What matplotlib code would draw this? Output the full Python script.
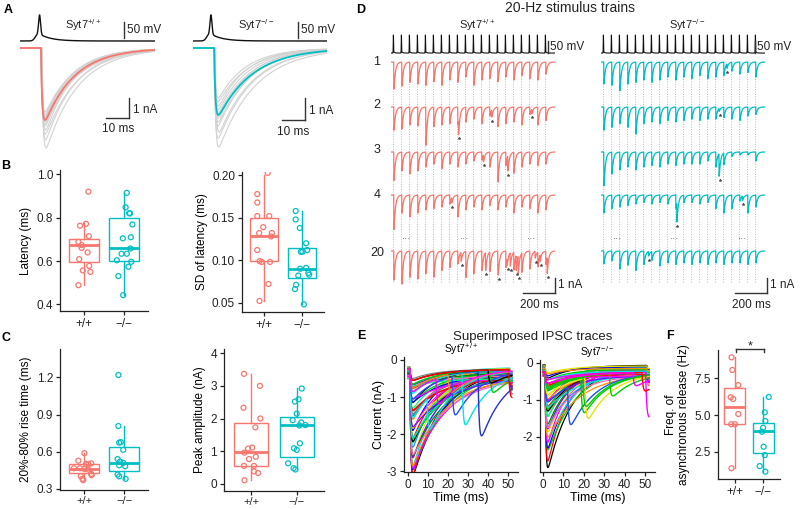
import numpy as np
import matplotlib
matplotlib.use("Agg")
import matplotlib.pyplot as plt

plt.rcParams['font.family'] = ['Liberation Sans', 'DejaVu Sans']
plt.rcParams['mathtext.fontset'] = 'custom'
plt.rcParams['mathtext.rm'] = 'Liberation Sans'
plt.rcParams['mathtext.it'] = 'Liberation Sans:italic'
plt.rcParams['mathtext.bf'] = 'Liberation Sans:bold'

RED = '#F8766D'
CYAN = '#00BFC4'
W, H = 800, 509
groups = ['+/+', '\u2212/\u2212']
WT = 'Syt7$^{+/+}$'
KO = 'Syt7$^{-/-}$'

# ---- panel A : single IPSCs (peak nA, decay ms, onset ms) ----
a_wt_gray_amp = [5.0, 4.6, 4.3, 4.1, 3.9, 3.8, 3.7, 3.6, 3.5, 3.4, 3.3, 3.2]
a_wt_gray_tau = [14, 13, 14, 12, 13, 12, 14, 13, 12, 13, 12, 13]
a_wt_gray_on = [9.6, 9.4, 9.3, 9.5, 9.2, 9.4, 9.1, 9.3, 9.0, 9.2, 9.4, 9.1]
a_wt_mean = [3.6, 13, 9.1]
a_ko_gray_amp = [4.95, 4.5, 4.2, 3.9, 3.7, 3.5, 3.3, 3.1, 2.9, 2.7, 2.5]
a_ko_gray_tau = [16, 15, 15, 14, 14, 13, 14, 13, 12, 13, 12]
a_ko_gray_on = [9.4, 9.2, 9.6, 9.1, 9.3, 9.5, 9.0, 9.2, 9.4, 9.1, 9.3]
a_ko_mean = [3.35, 15, 9.2]

# ---- panel B / C / F : box stats [whislo, q1, med, q3, whishi] and points ----
lat_wt = [0.92, 0.763, 0.772, 0.715, 0.689, 0.674, 0.661, 0.64, 0.609, 0.557, 0.578, 0.55, 0.489]
lat_wt_dx = [0.11, -0.10, 0.05, 0.12, -0.14, -0.06, -0.06, 0.09, -0.12, -0.03, 0.13, 0.16, -0.14]
lat_ko = [0.915, 0.848, 0.821, 0.82, 0.769, 0.705, 0.71, 0.658, 0.634, 0.634, 0.604, 0.597, 0.574, 0.531, 0.443]
lat_ko_dx = [0.07, 0.04, 0.13, 0.15, 0.21, -0.03, 0.17, 0.16, -0.06, 0.07, -0.18, 0.18, 0.11, -0.14, -0.02]
lat_box_wt = [0.49, 0.594, 0.672, 0.70, 0.774]
lat_box_ko = [0.443, 0.60, 0.661, 0.797, 0.915]

sd_wt = [0.203, 0.178, 0.168, 0.152, 0.152, 0.139, 0.132, 0.132, 0.128, 0.112, 0.099, 0.098, 0.098, 0.072, 0.052]
sd_wt_dx = [0.09, -0.19, -0.19, -0.19, 0.13, -0.03, -0.14, 0.20, 0.18, -0.19, -0.13, -0.07, 0.15, 0.11, -0.13]
sd_ko = [0.158, 0.148, 0.138, 0.12, 0.112, 0.11, 0.11, 0.091, 0.09, 0.082, 0.085, 0.083, 0.071, 0.066, 0.048]
sd_ko_dx = [-0.16, -0.16, -0.05, 0.12, 0.15, -0.02, 0.02, 0.12, -0.04, -0.09, 0.18, 0.20, -0.15, -0.18, 0.06]
sd_box_wt = [0.052, 0.0994, 0.129, 0.15, 0.20]
sd_box_ko = [0.048, 0.0789, 0.0896, 0.1144, 0.158]

rise_wt = [0.588, 0.527, 0.50, 0.505, 0.50, 0.466, 0.466, 0.46, 0.455, 0.42, 0.402, 0.41, 0.38, 0.37]
rise_wt_dx = [0.01, -0.14, 0.11, 0.18, 0.05, -0.25, -0.10, 0.01, 0.11, 0.18, -0.08, 0.19, -0.04, -0.02]
rise_ko = [1.22, 0.807, 0.673, 0.677, 0.615, 0.54, 0.52, 0.51, 0.482, 0.49, 0.415, 0.40, 0.38]
rise_ko_dx = [-0.14, -0.14, -0.12, -0.08, -0.02, -0.16, -0.10, -0.02, 0.03, -0.12, -0.16, -0.12, 0.04]
rise_box_wt = [0.37, 0.426, 0.46, 0.498, 0.588]
rise_box_ko = [0.38, 0.447, 0.506, 0.641, 0.807]

amp_wt = [3.37, 3.0, 2.33, 2.0, 1.73, 1.11, 1.08, 0.955, 0.83, 0.76, 0.55, 0.55, 0.38, 0.33, 0.11]
amp_wt_dx = [-0.16, 0.19, -0.17, 0.20, 0.09, 0.02, -0.07, -0.15, 0.10, -0.05, -0.16, 0.06, 0.06, 0.15, -0.15]
amp_ko = [2.92, 2.59, 2.52, 2.15, 1.95, 1.88, 1.79, 1.8, 1.24, 1.09, 1.04, 0.63, 0.48, 0.44]
amp_ko_dx = [0.11, 0.04, -0.04, 0.0, -0.09, 0.10, 0.06, 0.19, 0.07, -0.06, 0.0, -0.19, -0.07, -0.03]
amp_box_wt = [0.12, 0.55, 0.965, 1.87, 3.37]
amp_box_ko = [0.44, 0.83, 1.79, 2.05, 2.92]

asyn_wt = [8.93, 8.07, 7.04, 6.21, 6.09, 5.07, 4.37, 4.37, 1.37]
asyn_wt_dx = [-0.12, -0.09, 0.12, -0.15, -0.06, 0.12, -0.13, 0.0, -0.12]
asyn_ko = [6.23, 5.18, 4.59, 4.13, 3.86, 2.84, 2.27, 1.52, 1.14]
asyn_ko_dx = [0.2, 0.06, 0.08, 0.0, -0.04, 0.02, 0.06, -0.12, 0.08]
asyn_box_wt = [1.37, 4.37, 5.57, 6.82, 8.93]
asyn_box_ko = [1.14, 2.39, 3.93, 4.43, 6.23]

# ---- panel D : 20-Hz trains, IPSC amplitude (nA) per stimulus ----
stim_t = [15, 65, 115, 165, 215, 265, 315, 365, 415, 465,
          515, 565, 615, 665, 715, 765, 815, 865, 915, 965]
row_names = ['1', '2', '3', '4', '20']
d_wt_amp = [
    [1.78, 1.6, 1.35, 1.45, 1.55, 1.3, 1.55, 1.2, 1.35, 1.0, 1.55, 1.2, 1.1, 1.3, 1.0, 1.2, 0.9, 1.1, 1.2, 0.8],
    [1.55, 1.45, 1.2, 1.25, 2.55, 1.3, 1.2, 1.1, 1.2, 1.0, 0.8, 1.1, 0.6, 1.3, 1.1, 1.0, 1.2, 0.5, 1.2, 0.9],
    [1.9, 1.25, 1.45, 1.25, 1.0, 0.8, 1.1, 0.8, 1.0, 0.8, 0.6, 0.55, 1.0, 2.0, 0.9, 1.4, 1.0, 0.8, 0.9, 0.8],
    [2.3, 1.2, 1.45, 1.2, 1.0, 0.9, 0.8, 0.6, 1.45, 1.0, 0.8, 1.0, 0.7, 1.0, 0.8, 1.2, 0.8, 0.9, 1.2, 1.0],
    [1.95, 2.2, 1.75, 1.85, 1.5, 1.75, 1.3, 1.1, 0.85, 1.75, 1.5, 1.3, 1.3, 1.2, 1.1, 1.2, 1.3, 1.2, 1.0, 0.9],
]
d_wt_async = [
    [],
    [(421, 1.0), (629, 0.5), (879, 0.3)],
    [(577, 0.45), (729, 1.0)],
    [(379, 0.35)],
    [(437, 0.6), (590, 1.2), (669, 0.55), (725, 0.45), (744, 0.9), (781, 1.0), (794, 1.2),
     (900, 0.45), (931, 0.45), (975, 1.1)],
]
d_ko_amp = [
    [1.45, 1.55, 1.9, 1.45, 1.35, 1.2, 1.35, 1.2, 1.0, 1.2, 1.0, 1.1, 0.9, 1.1, 1.0, 0.9, 0.6, 0.8, 0.7, 1.0],
    [1.55, 1.35, 1.1, 1.35, 1.8, 1.1, 1.0, 1.1, 0.9, 1.0, 0.9, 0.8, 0.9, 0.8, 0.8, 0.7, 0.8, 0.9, 0.6, 0.5],
    [2.25, 1.45, 1.2, 1.0, 1.2, 1.0, 0.9, 1.0, 0.8, 0.9, 0.8, 0.8, 0.8, 0.6, 1.0, 0.8, 0.3, 0.2, 0.2, 0.6],
    [1.2, 0.9, 0.8, 0.7, 0.6, 0.5, 0.6, 0.5, 0.6, 0.9, 0.5, 0.5, 0.6, 0.5, 0.9, 1.2, 0.9, 0.4, 1.2, 0.8],
    [0.85, 0.65, 1.2, 0.95, 1.3, 0.9, 0.6, 1.0, 0.8, 0.9, 0.8, 0.9, 0.8, 0.9, 0.8, 0.9, 0.8, 0.8, 0.9, 0.8],
]
d_ko_async = [
    [(786, 0.3)],
    [(737, 0.2)],
    [(737, 1.5)],
    [(473, 1.3), (883, 0.3)],
    [(296, 0.3)],
]

# ---- panel E : superimposed sweeps (first IPSC amplitude, nA) ----
e_wt_amp = [2.9, 2.8, 2.7, 2.6, 2.55, 2.5, 2.4, 2.35, 2.3, 2.2, 2.15, 2.1, 2.0, 1.95, 1.9,
            1.85, 1.8, 1.7, 1.65, 1.6, 1.5, 1.45, 1.4, 1.35, 1.3, 1.2, 1.15, 1.1, 1.0, 0.95,
            0.9, 0.85, 0.8, 0.75, 0.7, 0.6, 0.55, 0.5, 0.45, 0.4, 0.35, 0.3, 0.25, 0.2]
e_wt_base = [-0.2, -0.28, -0.22, -0.35, -0.3, -0.42, -0.25, -0.5, -0.33, -0.38, -0.2, -0.45]
e_wt_tau = [16, 14, 18, 15, 13, 17, 12, 15, 14, 16, 13, 19]
# sweeps with a late asynchronous event: first amp, event time, event amp
e_wt_async = [(1.3, 9.5, 0.9), (0.8, 22.0, 1.05), (0.6, 27.0, 1.4), (0.5, 35.0, 1.75),
              (0.4, 41.0, 0.6), (0.3, 40.0, 0.35), (0.3, 50.3, 0.75), (0.5, 20.0, 0.5), (0.6, 14.0, 0.7)]
e_wt_async_col = ['#00E5E5', '#1E4BFF', '#00E5E5', '#2233CC', '#00CC00', '#000000', '#FF0000',
                  '#FF8C00', '#FF00FF']

e_ko_amp = [2.75, 2.5, 2.25, 2.1, 2.0, 1.9, 1.8, 1.7, 1.6, 1.55, 1.5, 1.4, 1.35, 1.3, 1.2,
            1.1, 1.05, 1.0, 0.95, 0.9, 0.85, 0.8, 0.75, 0.7, 0.65, 0.6, 0.55, 0.5, 0.45, 0.4,
            0.35, 0.3, 0.28, 0.25, 0.22, 0.2, 0.18, 0.15]
e_ko_base = [-0.08, -0.15, -0.1, -0.2, -0.12, -0.25, -0.06, -0.3, -0.18, -0.1, -0.22, -0.35]
e_ko_tau = [12, 10, 14, 11, 13, 9, 12, 15, 10, 11, 13, 12]
e_ko_async = [(0.8, 12.0, 1.05), (0.5, 18.5, 0.95), (0.6, 20.5, 1.1), (0.45, 19.5, 0.8),
              (0.4, 32.5, 0.6), (0.2, 50.3, 1.2), (0.3, 48.5, 0.5), (0.3, 44.0, 0.35)]
e_ko_async_col = ['#1E4BFF', '#00CC00', '#E5E500', '#00CC00', '#00CC00', '#FF00FF', '#FF0000', '#FF00FF']

e_colors = ['#000000', '#FF0000', '#00CC00', '#0000FF', '#00E5E5', '#FF00FF', '#E5E500',
            '#FF8C00', '#7F00FF', '#008000', '#1E90FF', '#FF69B4', '#808080', '#00FF7F', '#8B4513']

fig = plt.figure(figsize=(8, 5.09), dpi=100)


def px_axes(x0, y0, x1, y1):
    return fig.add_axes([x0 / W, 1 - y1 / H, (x1 - x0) / W, (y1 - y0) / H])


def kernel(t, t0, tau_r, tau_d):
    s = np.clip(t - t0, 0, None)
    k = (1 - np.exp(-s / tau_r)) * np.exp(-s / tau_d)
    tp = tau_r * np.log(1 + tau_d / tau_r)
    return k / ((1 - np.exp(-tp / tau_r)) * np.exp(-tp / tau_d))


def ap_wave(t, tp):
    hump = 22 / (1 + np.exp(-(t - (tp - 2.0)) / 0.5)) * np.where(t > tp, np.exp(-(t - tp) / 5.0), 1.0)
    return hump + 60 * np.exp(-((t - tp) / 0.6) ** 2)


def style(ax):
    for s in ['top', 'right']:
        ax.spines[s].set_visible(False)
    for s in ['left', 'bottom']:
        ax.spines[s].set_color('#222222')
        ax.spines[s].set_linewidth(0.9)
    ax.tick_params(length=3, width=0.9, color='#222222', labelsize=8.5, labelcolor='#222222', pad=2)


def boxpanel(rect, bw, bk, pw, dw, pk, dk, ylim, ticks, labels, ylabel):
    ax = px_axes(*rect)
    for pos, b, c in [(1, bw, RED), (2, bk, CYAN)]:
        st = dict(whislo=b[0], q1=b[1], med=b[2], q3=b[3], whishi=b[4], fliers=[])
        ax.bxp([st], positions=[pos], widths=0.75, showcaps=False, showfliers=False, patch_artist=True,
               boxprops=dict(facecolor='white', edgecolor=c, linewidth=1.0),
               medianprops=dict(color=c, linewidth=2.0),
               whiskerprops=dict(color=c, linewidth=1.0))
    ax.scatter(1 + np.array(dw), pw, s=13, facecolors='none', edgecolors=RED, linewidths=0.9, zorder=3)
    ax.scatter(2 + np.array(dk), pk, s=13, facecolors='none', edgecolors=CYAN, linewidths=0.9, zorder=3)
    ax.set_xlim(0.4, 2.6)
    ax.set_ylim(*ylim)
    ax.set_yticks(ticks)
    ax.set_yticklabels(labels)
    ax.set_xticks([1, 2])
    ax.set_xticklabels(groups)
    ax.set_ylabel(ylabel, fontsize=8.5, labelpad=3)
    style(ax)
    return ax


# overlay in pixel coordinates for labels and scale bars
ov = fig.add_axes([0, 0, 1, 1], zorder=10)
ov.set_xlim(0, W)
ov.set_ylim(H, 0)
ov.axis('off')


def bar(x0, y0, x1, y1):
    ov.plot([x0, x1], [y0, y1], color='#333333', lw=1.0)


def txt(x, y, s, **kw):
    kw.setdefault('fontsize', 8.5)
    kw.setdefault('color', '#222222')
    ov.text(x, y, s, **kw)


# ----- A -----
tA = np.arange(0, 59, 0.05)
for (x0, x1, tp, gam, gtau, gon, mean, col, lab) in [
        (20, 155, 8.5, a_wt_gray_amp, a_wt_gray_tau, a_wt_gray_on, a_wt_mean, RED, WT),
        (193, 327, 7.8, a_ko_gray_amp, a_ko_gray_tau, a_ko_gray_on, a_ko_mean, CYAN, KO)]:
    axv = px_axes(x0, 10, x1, 44)
    axv.plot(tA, ap_wave(tA, tp), color='#111111', lw=1.0)
    axv.set_xlim(0, (x1 - x0) / 2.3)
    axv.set_ylim(-9.4, 96.9)
    axv.axis('off')
    axi = px_axes(x0, 44, x1, 152)
    for a, tau, on in zip(gam, gtau, gon):
        axi.plot(tA, -a * kernel(tA, on, 0.5, tau), color='#d2d2d2', lw=0.8)
    axi.plot(tA, -mean[0] * kernel(tA, mean[2], 0.55, mean[1]), color=col, lw=1.3)
    axi.set_xlim(0, (x1 - x0) / 2.3)
    axi.set_ylim(-5.2, 0.2)
    axi.axis('off')
    txt(x0 + 63, 25, lab, ha='center', va='center', fontsize=8)

bar(124, 22, 124, 38)
txt(127, 30, '50 mV', va='center')
bar(298, 22, 298, 38)
txt(301, 30, '50 mV', va='center')
bar(106, 118, 129, 118)
bar(129, 98, 129, 118)
txt(133, 110, '1 nA', va='center')
txt(118, 129, '10 ms', ha='center', va='center')
bar(282, 120, 305, 120)
bar(305, 98, 305, 120)
txt(309, 111, '1 nA', va='center')
txt(293, 132, '10 ms', ha='center', va='center')

# ----- B, C -----
boxpanel((60, 170, 148, 311), lat_box_wt, lat_box_ko, lat_wt, lat_wt_dx, lat_ko, lat_ko_dx,
         (0.37, 1.02), [0.4, 0.6, 0.8, 1.0], ['0.4', '0.6', '0.8', '1.0'], 'Latency (ms)')
boxpanel((242, 172, 324, 312), sd_box_wt, sd_box_ko, sd_wt, sd_wt_dx, sd_ko, sd_ko_dx,
         (0.039, 0.204), [0.05, 0.10, 0.15, 0.20], ['0.05', '0.10', '0.15', '0.20'], 'SD of latency (ms)')
axC1 = boxpanel((60, 349, 148, 490), rise_box_wt, rise_box_ko, rise_wt, rise_wt_dx, rise_ko, rise_ko_dx,
                (0.29, 1.43), [0.3, 0.6, 0.9, 1.2], ['0.3', '0.6', '0.9', '1.2'], '20%-80% rise time (ms)')
axC2 = boxpanel((224, 349, 324, 491), amp_box_wt, amp_box_ko, amp_wt, amp_wt_dx, amp_ko, amp_ko_dx,
                (-0.22, 4.13), [0, 1, 2, 3, 4], ['0', '1', '2', '3', '4'], 'Peak amplitude (nA)')
for ax in (axC1, axC2):
    ax.tick_params(axis='x', pad=1, labelsize=8)

# ----- D -----
tD = np.arange(0, 1025, 0.25)
row_off = [0, -3.0, -6.0, -8.87, -12.6]
for (x0, x1, amps, asyns, col, lab, lx) in [(391, 555, d_wt_amp, d_wt_async, RED, WT, 477),
                                              (601, 765, d_ko_amp, d_ko_async, CYAN, KO, 687)]:
    ax = px_axes(x0, 28, x1, 300)
    ap = np.zeros_like(tD)
    for st in stim_t:
        ap += 1.2 * np.exp(-((tD - st) / 1.3) ** 2) + 0.08 * kernel(tD, st, 1.0, 6)
    ax.plot(tD, 0.6 + ap, color='#111111', lw=0.8)
    ax.vlines(stim_t, -14.7, -0.3, colors='#bbb0b0', lw=0.6, linestyles=(0, (1.2, 1.8)), zorder=1)
    for r in range(5):
        y = np.zeros_like(tD)
        for st, a in zip(stim_t, amps[r]):
            y -= a * kernel(tD, st + 2, 0.6, 9)
        for ta, a in asyns[r]:
            y -= a * kernel(tD, ta, 0.6, 9)
        ax.plot(tD, y + row_off[r], color=col, lw=0.9, zorder=2)
        for ta, a in asyns[r]:
            m = (tD >= ta) & (tD <= ta + 6)
            ax.plot(ta + 4, y[m].min() + row_off[r] - 0.25, marker='*', ms=2.2, color='#444444',
                    mew=0.3, zorder=3)
    ax.set_xlim(0, 1025)
    ax.set_ylim(-15.87, 2.27)
    ax.axis('off')
    txt(lx, 25, lab, ha='center', va='center', fontsize=8)

for name, y in zip(row_names, [62, 105, 150, 195, 253]):
    txt(377, y, name, ha='center', va='center', fontsize=9)
for x in [407, 465, 532, 618, 675, 743]:
    txt(x, 239, '\u00b7\u00b7\u00b7', ha='center', va='center', fontsize=7, color='#555555')
bar(548, 41, 548, 53)
txt(550, 47, '50 mV', va='center')
bar(755, 41, 755, 53)
txt(757, 47, '50 mV', va='center')
bar(523, 293, 555, 293)
bar(555, 278, 555, 293)
txt(558, 285, '1 nA', va='center')
txt(539, 305, '200 ms', ha='center', va='center')
bar(735, 293, 767, 293)
bar(767, 278, 767, 293)
txt(770, 285, '1 nA', va='center')
txt(751, 305, '200 ms', ha='center', va='center')
txt(570, 8, '20-Hz stimulus trains', ha='center', va='center', fontsize=10)

# ----- E -----
tE = np.arange(0, 52, 0.05)
for (rect, xl, yl, amps, bases, taus, asy, acol, lab, yt) in [
        ((404, 357, 518, 472), (-2, 55), (-3.02, 0.08), e_wt_amp, e_wt_base, e_wt_tau,
         e_wt_async, e_wt_async_col, WT, [0, -1, -2, -3]),
        ((540, 360, 655, 472), (-1.5, 54.9), (-2.95, 0.08), e_ko_amp, e_ko_base, e_ko_tau,
         e_ko_async, e_ko_async_col, KO, [0, -1, -2])]:
    ax = px_axes(*rect)
    for i, a in enumerate(amps):
        b = bases[i % len(bases)]
        tau = taus[i % len(taus)]
        y = b - a * kernel(tE, 1.0, 0.4, tau) - (0.12 * a + 0.05) * kernel(tE, 50.8, 0.4, tau)
        ax.plot(tE, y, color=e_colors[i % len(e_colors)], lw=0.9)
    for (a0, te, ae), c in zip(asy, acol):
        y = -0.25 - a0 * kernel(tE, 1.0, 0.4, 14) - ae * kernel(tE, te, 0.6, 12)
        ax.plot(tE, y, color=c, lw=1.0)
    ax.set_xlim(*xl)
    ax.set_ylim(*yl)
    ax.set_yticks(yt)
    ax.set_yticklabels([str(v) for v in yt])
    ax.set_xticks([0, 10, 20, 30, 40, 50])
    ax.set_xlabel('Time (ms)', fontsize=9, labelpad=1)
    style(ax)
    ax.tick_params(labelsize=8.5)
    ax.set_title(lab, fontsize=7.5, pad=1)
    if lab == WT:
        ax.set_ylabel('Current (nA)', fontsize=9, labelpad=1)
txt(533, 337, 'Superimposed IPSC traces', ha='center', va='center', fontsize=9.5)

# ----- F -----
axF = boxpanel((718, 350, 780, 479), asyn_box_wt, asyn_box_ko, asyn_wt, asyn_wt_dx, asyn_ko, asyn_ko_dx,
               (0.64, 9.43), [2.5, 5.0, 7.5], ['2.5', '5.0', '7.5'],
               'Freq. of\nasynchronous release (Hz)')
axF.yaxis.label.set_linespacing(1.1)
bar(736, 352, 736, 349)
bar(736, 349, 764, 349)
bar(764, 349, 764, 352)
txt(750, 346, '*', ha='center', va='center', fontsize=9)

# panel letters
for s, x, y in [('A', 8, 10), ('B', 6, 166), ('C', 6, 338), ('D', 361, 10), ('E', 361, 336), ('F', 670, 336)]:
    txt(x, y, s, ha='center', va='center', fontsize=9, fontweight='bold', color='black')

fig.savefig('out.png', dpi=100)
